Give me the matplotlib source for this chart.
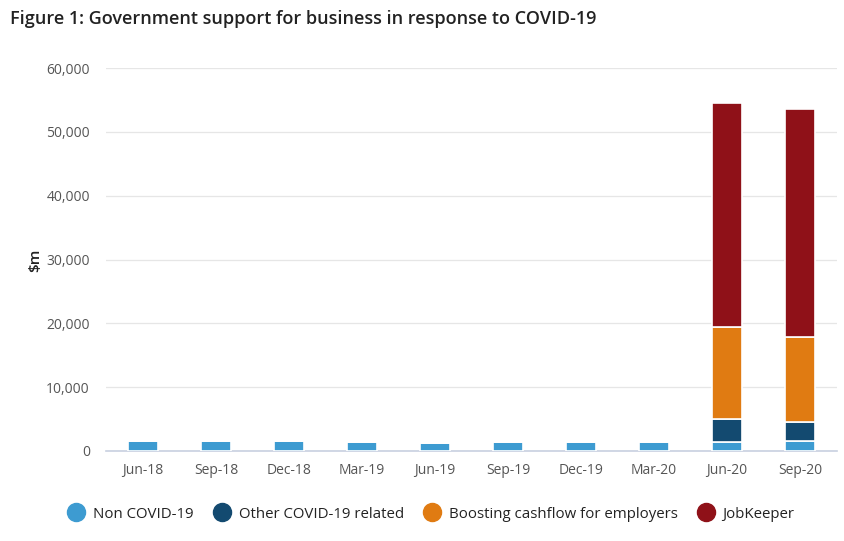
import matplotlib
matplotlib.use("Agg")
import matplotlib.pyplot as plt
from matplotlib.lines import Line2D
import numpy as np

categories = ["Jun-18", "Sep-18", "Dec-18", "Mar-19", "Jun-19", "Sep-19", "Dec-19", "Mar-20", "Jun-20", "Sep-20"]
non_covid = [1600, 1600, 1600, 1450, 1300, 1450, 1450, 1450, 1400, 1500]
other_covid = [0, 0, 0, 0, 0, 0, 0, 0, 3600, 3000]
boosting = [0, 0, 0, 0, 0, 0, 0, 0, 14500, 13300]
jobkeeper = [0, 0, 0, 0, 0, 0, 0, 0, 35100, 35800]
series_names = ["Non COVID-19", "Other COVID-19 related", "Boosting cashflow for employers", "JobKeeper"]
colors = ["#3d9bd1", "#134a70", "#e07b12", "#8f1118"]
yticks = [0, 10000, 20000, 30000, 40000, 50000, 60000]

plt.rcParams['font.family'] = ['Open Sans', 'DejaVu Sans']

fig = plt.figure(figsize=(8.45, 5.41), dpi=100)
ax = fig.add_axes([0.126, 0.1664, 0.864, 0.7076])

x = np.arange(len(categories))
bottom = np.zeros(len(categories))
for vals, col, name in zip([non_covid, other_covid, boosting, jobkeeper], colors, series_names):
    v = np.array(vals, dtype=float)
    ax.bar(x, v, width=0.41, bottom=bottom, color=col, edgecolor="white", linewidth=1.2, label=name, zorder=3)
    bottom += v

ax.set_xlim(-0.5, len(categories) - 0.5)
ax.set_ylim(0, 60000)
ax.set_yticks(yticks)
ax.set_yticklabels([f"{t:,}" for t in yticks])
ax.set_xticks(x)
ax.set_xticklabels(categories)
ax.tick_params(axis="both", length=0, labelsize=10, colors="#555555")
ax.tick_params(axis="x", pad=9)
ax.tick_params(axis="y", pad=12)
ax.grid(axis="y", color="#e6e6e6", linewidth=0.9, zorder=0)
for s in ["top", "right", "left"]:
    ax.spines[s].set_visible(False)
ax.spines["bottom"].set_color("#c8d0e0")
ax.spines["bottom"].set_linewidth(1.2)

fig.text(35 / 845, 1 - 260 / 541, "$m", rotation=90, ha="center", va="center", fontsize=11, color="#222222", fontweight="semibold")
fig.text(10 / 845, 1 - 19 / 541, "Figure 1: Government support for business in response to COVID-19",
         ha="left", va="center", fontsize=13, color="#222222", fontweight="semibold")

handles = [Line2D([0], [0], marker="o", linestyle="none", markersize=13, markerfacecolor=c, markeredgecolor=c) for c in colors]
fig.legend(handles, series_names, loc="center", bbox_to_anchor=(428 / 845, 1 - 514 / 541), ncol=4,
           frameon=False, fontsize=10.8, handletextpad=0.1, columnspacing=0.9, labelcolor="#222222")

fig.savefig("out.png", dpi=100)
